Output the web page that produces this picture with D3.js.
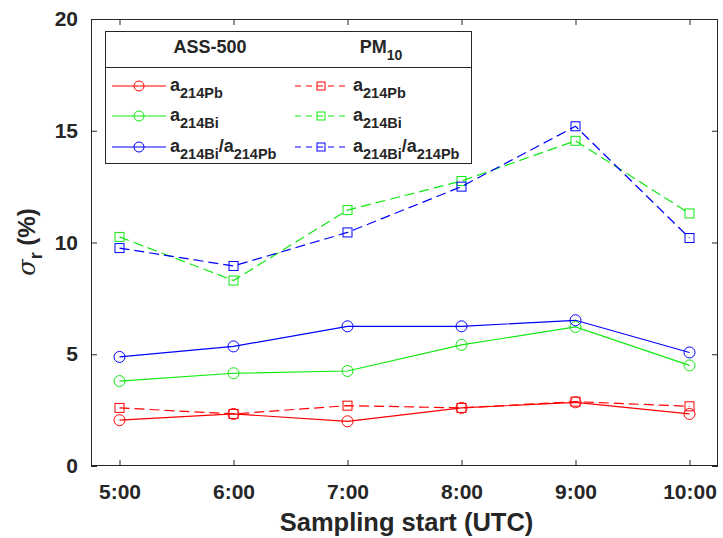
<!DOCTYPE html>
<meta charset="utf-8">
<style>
body { margin: 0; background: #fff; }
text { font-family: "Liberation Sans", Arial, sans-serif; fill: #262626; }
.axis path, .axis line { stroke: #262626; }
.axis text { font-size: 21px; font-weight: bold; }
</style>
<svg width="723" height="538"></svg>
<script src="https://cdn.jsdelivr.net/npm/d3@7"></script>
<script>

var hours = [5, 6, 7, 8, 9, 10];
var tickLabels = ["5:00", "6:00", "7:00", "8:00", "9:00", "10:00"];
var yTicks = [0, 5, 10, 15, 20];

// ASS-500 (circles, solid)
var assPb = [2.05, 2.33, 2.0, 2.6, 2.85, 2.33];
var assBi = [3.8, 4.15, 4.25, 5.42, 6.22, 4.5];
var assRatio = [4.88, 5.35, 6.25, 6.25, 6.52, 5.08];
// PM10 (squares, dashed)
var pmPb = [2.6, 2.33, 2.7, 2.6, 2.88, 2.67];
var pmBi = [10.25, 8.3, 11.45, 12.75, 14.55, 11.3];
var pmRatio = [9.75, 8.95, 10.45, 12.5, 15.2, 10.2];

var series = [
  {vals: pmPb, color: "#ff0000", marker: "square", dash: true},
  {vals: pmBi, color: "#10ea10", marker: "square", dash: true},
  {vals: pmRatio, color: "#0000ff", marker: "square", dash: true},
  {vals: assPb, color: "#ff0000", marker: "circle", dash: false},
  {vals: assBi, color: "#10ea10", marker: "circle", dash: false},
  {vals: assRatio, color: "#0000ff", marker: "circle", dash: false}
];

var svg = d3.select("svg");
var pL = 91, pR = 718, pT = 19, pB = 466;

var x = d3.scaleLinear().domain([4.75, 10.25]).range([pL, pR]);
var y = d3.scaleLinear().domain([0, 20]).range([pB, pT]);

// box with ticks on every side
svg.append("rect")
    .attr("x", pL + 0.5).attr("y", pT + 0.5)
    .attr("width", pR - pL - 1).attr("height", pB - pT - 1)
    .attr("fill", "none").attr("stroke", "#262626");

svg.append("g").attr("class", "axis")
    .attr("transform", "translate(0," + pB + ")")
    .call(d3.axisBottom(x).tickValues(hours).tickSize(-6).tickPadding(18)
      .tickFormat(function(d, i) { return tickLabels[i]; }))
    .call(function(g) { g.select(".domain").remove(); });
svg.append("g").attr("class", "axis")
    .attr("transform", "translate(0," + pT + ")")
    .call(d3.axisTop(x).tickValues(hours).tickSize(-6).tickFormat(""))
    .call(function(g) { g.select(".domain").remove(); });
svg.append("g").attr("class", "axis")
    .attr("transform", "translate(" + pL + ",0)")
    .call(d3.axisLeft(y).tickValues(yTicks).tickSize(-6).tickPadding(13))
    .call(function(g) { g.select(".domain").remove(); });
svg.append("g").attr("class", "axis")
    .attr("transform", "translate(" + pR + ",0)")
    .call(d3.axisRight(y).tickValues(yTicks).tickSize(-6).tickFormat(""))
    .call(function(g) { g.select(".domain").remove(); });

// axis labels
svg.append("text")
    .attr("x", (pL + pR) / 2 + 2).attr("y", 531)
    .attr("text-anchor", "middle")
    .style("font-size", "25.5px").style("font-weight", "bold")
    .text("Sampling start (UTC)");

var yl = svg.append("text")
    .attr("transform", "translate(35,242) rotate(-90)")
    .attr("text-anchor", "middle")
    .style("font-size", "24px").style("font-weight", "bold");
yl.append("tspan").style("font-family", "'DejaVu Serif', serif").style("font-style", "italic")
    .style("font-weight", "normal").text("\u03c3");
yl.append("tspan").attr("dy", 7).style("font-size", "18px").text("r");
yl.append("tspan").attr("dy", -7).text(" (%)");

function drawMarker(g, type, cx, cy, color, s) {
  if (type === "circle") {
    g.append("circle").attr("cx", cx).attr("cy", cy).attr("r", s / 2)
      .attr("fill", "none").attr("stroke", color);
  } else {
    g.append("rect").attr("x", cx - s / 2 + 0.5).attr("y", cy - s / 2 + 0.5)
      .attr("width", s - 1).attr("height", s - 1)
      .attr("fill", "none").attr("stroke", color);
  }
}

var line = d3.line()
    .x(function(d, i) { return x(hours[i]); })
    .y(function(d) { return y(d); });

series.forEach(function(s) {
  var g = svg.append("g");
  g.append("path").datum(s.vals)
    .attr("d", line)
    .attr("fill", "none")
    .attr("stroke", s.color)
    .attr("stroke-width", 1.2)
    .attr("stroke-dasharray", s.dash ? "10,5" : null);
  s.vals.forEach(function(v, i) {
    drawMarker(g, s.marker, x(hours[i]), y(v), s.color, s.marker === "circle" ? 11 : 10);
  });
});

// legend
var lg = svg.append("g");
lg.append("rect").attr("x", 105.5).attr("y", 31.5).attr("width", 366).attr("height", 132)
    .attr("fill", "#fff").attr("stroke", "#262626");
lg.append("line").attr("x1", 105.5).attr("x2", 471.5).attr("y1", 67.5).attr("y2", 67.5)
    .attr("stroke", "#262626");
lg.append("text").attr("x", 210).attr("y", 53).attr("text-anchor", "middle")
    .style("font-size", "18px").style("font-weight", "bold").text("ASS-500");
var pmT = lg.append("text").attr("x", 381).attr("y", 53).attr("text-anchor", "middle")
    .style("font-size", "18px").style("font-weight", "bold");
pmT.append("tspan").text("PM");
pmT.append("tspan").attr("dy", 7).style("font-size", "14px").text("10");

var legendLabels = [["214Pb"], ["214Bi"], ["214Bi", "214Pb"]];
var rowsY = [86, 116, 147];

function legendText(tx, ty, parts) {
  var t = lg.append("text").attr("x", tx).attr("y", ty + 5)
      .style("font-size", "18px").style("font-weight", "bold");
  parts.forEach(function(p, k) {
    t.append("tspan").attr("dy", k === 0 ? 0 : -7).text(k === 0 ? "a" : "/a");
    t.append("tspan").attr("dy", 7).style("font-size", "14.5px").text(p);
  });
}

var cols = [
  {x1: 112, x2: 166, mx: 139, tx: 170, list: series.slice(3)},
  {x1: 295, x2: 350, mx: 321, tx: 353, list: series.slice(0, 3)}
];
cols.forEach(function(c) {
  c.list.forEach(function(s, i) {
    lg.append("line").attr("x1", c.x1).attr("x2", c.x2)
      .attr("y1", rowsY[i]).attr("y2", rowsY[i])
      .attr("stroke", s.color).attr("stroke-width", 1.2)
      .attr("stroke-dasharray", s.dash ? "6,5" : null);
    drawMarker(lg, s.marker, c.mx, rowsY[i], s.color, s.marker === "circle" ? 10 : 9);
    legendText(c.tx, rowsY[i], legendLabels[i]);
  });
});

</script>
